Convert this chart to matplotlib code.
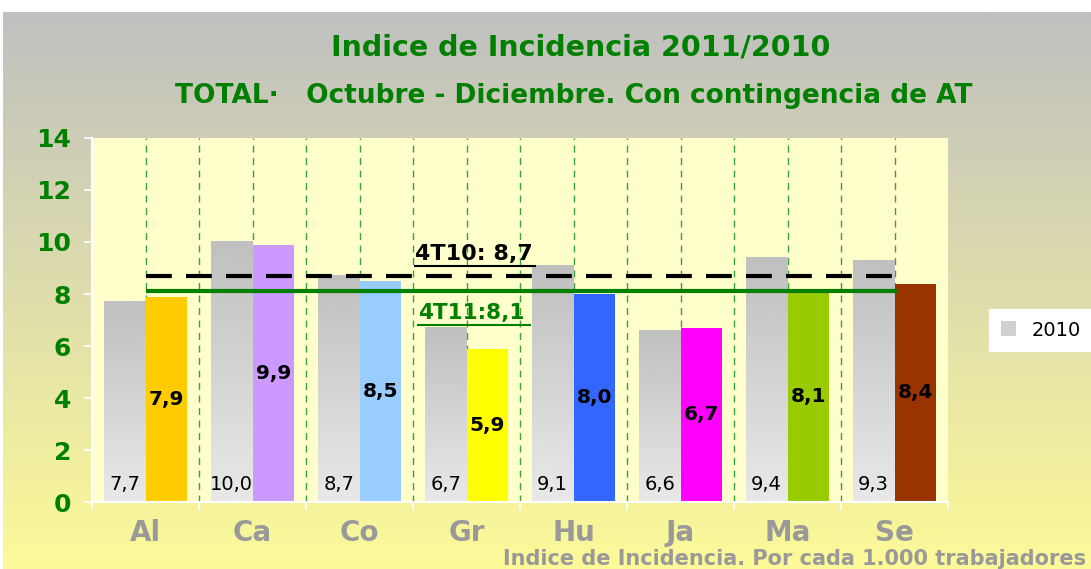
import numpy as np
import matplotlib
matplotlib.use("Agg")
import matplotlib.pyplot as plt
from matplotlib.patches import Patch

# data
regions = ["Al", "Ca", "Co", "Gr", "Hu", "Ja", "Ma", "Se"]
vals_2010 = [7.7, 10.0, 8.7, 6.7, 9.1, 6.6, 9.4, 9.3]
vals_2011 = [7.9, 9.9, 8.5, 5.9, 8.0, 6.7, 8.1, 8.4]
colors_2011 = ["#FFCC00", "#CC99FF", "#99CCFF", "#FFFF00",
               "#3366FF", "#FF00FF", "#99CC00", "#993300"]
avg_2010 = 8.7
avg_2011 = 8.1
label_2010 = "4T10: 8,7"
label_2011 = "4T11:8,1"
yticks = [0, 2, 4, 6, 8, 10, 12, 14]

W, H = 1091, 569
GREEN = "#008000"
GREY_TXT = "#999999"

fig = plt.figure(figsize=(W / 100, H / 100), dpi=100)
fig.patch.set_facecolor("white")

# figure background gradient (grey top -> yellow bottom)
bg = fig.add_axes([3 / W, 0, 1 - 3 / W, (H - 12) / H], zorder=-10)
top = np.array([192, 192, 192]) / 255
bot = np.array([252, 250, 152]) / 255
t = np.linspace(0, 1, 256)[:, None]
grad = top[None, :] * (1 - t) + bot[None, :] * t
bg.imshow(grad[:, None, :], aspect="auto", extent=[0, 1, 0, 1])
bg.set_axis_off()

# main axes
ax = fig.add_axes([92 / W, (H - 502) / H, 856 / W, 364 / H])
ax.set_facecolor("#FFFFCC")

x = np.arange(len(regions))
bw = 0.39
grey_grad = np.linspace(0.75, 0.91, 128)[:, None]  # darker top, lighter bottom
for i, (v0, v1) in enumerate(zip(vals_2010, vals_2011)):
    ax.imshow(grey_grad, cmap="gray", vmin=0, vmax=1, aspect="auto",
              extent=[i - bw, i, 0, v0], zorder=2)
    ax.bar(i + bw / 2, v1, width=bw, color=colors_2011[i], zorder=2)
    ax.text(i - bw / 2, 0.3, f"{v0:.1f}".replace(".", ","), ha="center",
            va="bottom", fontsize=14, color="black", zorder=5)
    ax.text(i + bw / 2, v1 / 2, f"{v1:.1f}".replace(".", ","), ha="center",
            va="center", fontsize=14.5, fontweight="bold", color="black", zorder=5)

ax.set_xlim(-0.5, len(regions) - 0.5)
ax.set_ylim(0, 14)

# vertical dashed guides
for xv in list(x) + list(x[:-1] + 0.5):
    ax.axvline(xv, color="#3AA03A", lw=1, ls=(0, (5, 4)), zorder=1)

# average lines
ax.plot([x[0], x[-1]], [avg_2010, avg_2010], color="black", lw=3,
        dashes=(6.2, 3.4), zorder=4)
ax.plot([x[0], x[-1] + 0.02], [avg_2011, avg_2011], color=GREEN, lw=3,
        solid_capstyle="butt", zorder=4)

ax.text(2.52, avg_2010 + 0.45, label_2010, fontsize=16, fontweight="bold",
        color="black", va="bottom", ha="left", zorder=6)
ax.plot([2.52, 3.64], [avg_2010 + 0.38, avg_2010 + 0.38], color="black", lw=1.5, zorder=6)
ax.text(2.55, avg_2011 - 1.22, label_2011, fontsize=15.5, fontweight="bold",
        color=GREEN, va="bottom", ha="left", zorder=6)
ax.plot([2.55, 3.59], [avg_2011 - 1.29, avg_2011 - 1.29], color=GREEN, lw=1.5, zorder=6)

# axes styling
for s in ["top", "right"]:
    ax.spines[s].set_visible(False)
for s in ["left", "bottom"]:
    ax.spines[s].set_color("white")
    ax.spines[s].set_linewidth(1.5)

ax.set_yticks(yticks)
ax.set_yticklabels([str(v) for v in yticks], fontsize=18, fontweight="bold")
ax.tick_params(axis="y", colors="white", length=6, width=1.2, pad=9)
for lab in ax.get_yticklabels():
    lab.set_color(GREEN)

ax.set_xticks(x)
ax.set_xticklabels(regions, fontsize=20, fontweight="bold", color=GREY_TXT)
ax.set_xticks(np.arange(-0.5, len(regions), 1.0), minor=True)
ax.tick_params(axis="x", which="major", length=0, pad=12)
ax.tick_params(axis="x", which="minor", colors="white", length=6, width=1.2)

# titles
fig.text(581 / W, 1 - 48 / H, "Indice de Incidencia 2011/2010", ha="center",
         va="center", fontsize=20.5, fontweight="bold", color=GREEN)
fig.text(574 / W, 1 - 96 / H, "TOTAL·   Octubre - Diciembre. Con contingencia de AT",
         ha="center", va="center", fontsize=19, fontweight="bold", color=GREEN)
fig.text(503 / W, 1 - 559 / H, "Indice de Incidencia. Por cada 1.000 trabajadores",
         ha="left", va="center", fontsize=15, fontweight="bold", color=GREY_TXT)

# legend
leg = fig.legend(handles=[Patch(facecolor="#D0D0D0", edgecolor="none")], labels=["2010"],
                 loc="upper left", bbox_to_anchor=(989 / W, 1 - 309 / H),
                 borderaxespad=0, frameon=True, fancybox=False, framealpha=1,
                 fontsize=14, handlelength=0.8, handleheight=0.8, borderpad=0.6)
leg.get_frame().set_edgecolor("white")
leg.get_frame().set_facecolor("white")

fig.savefig("out.png", dpi=100)
